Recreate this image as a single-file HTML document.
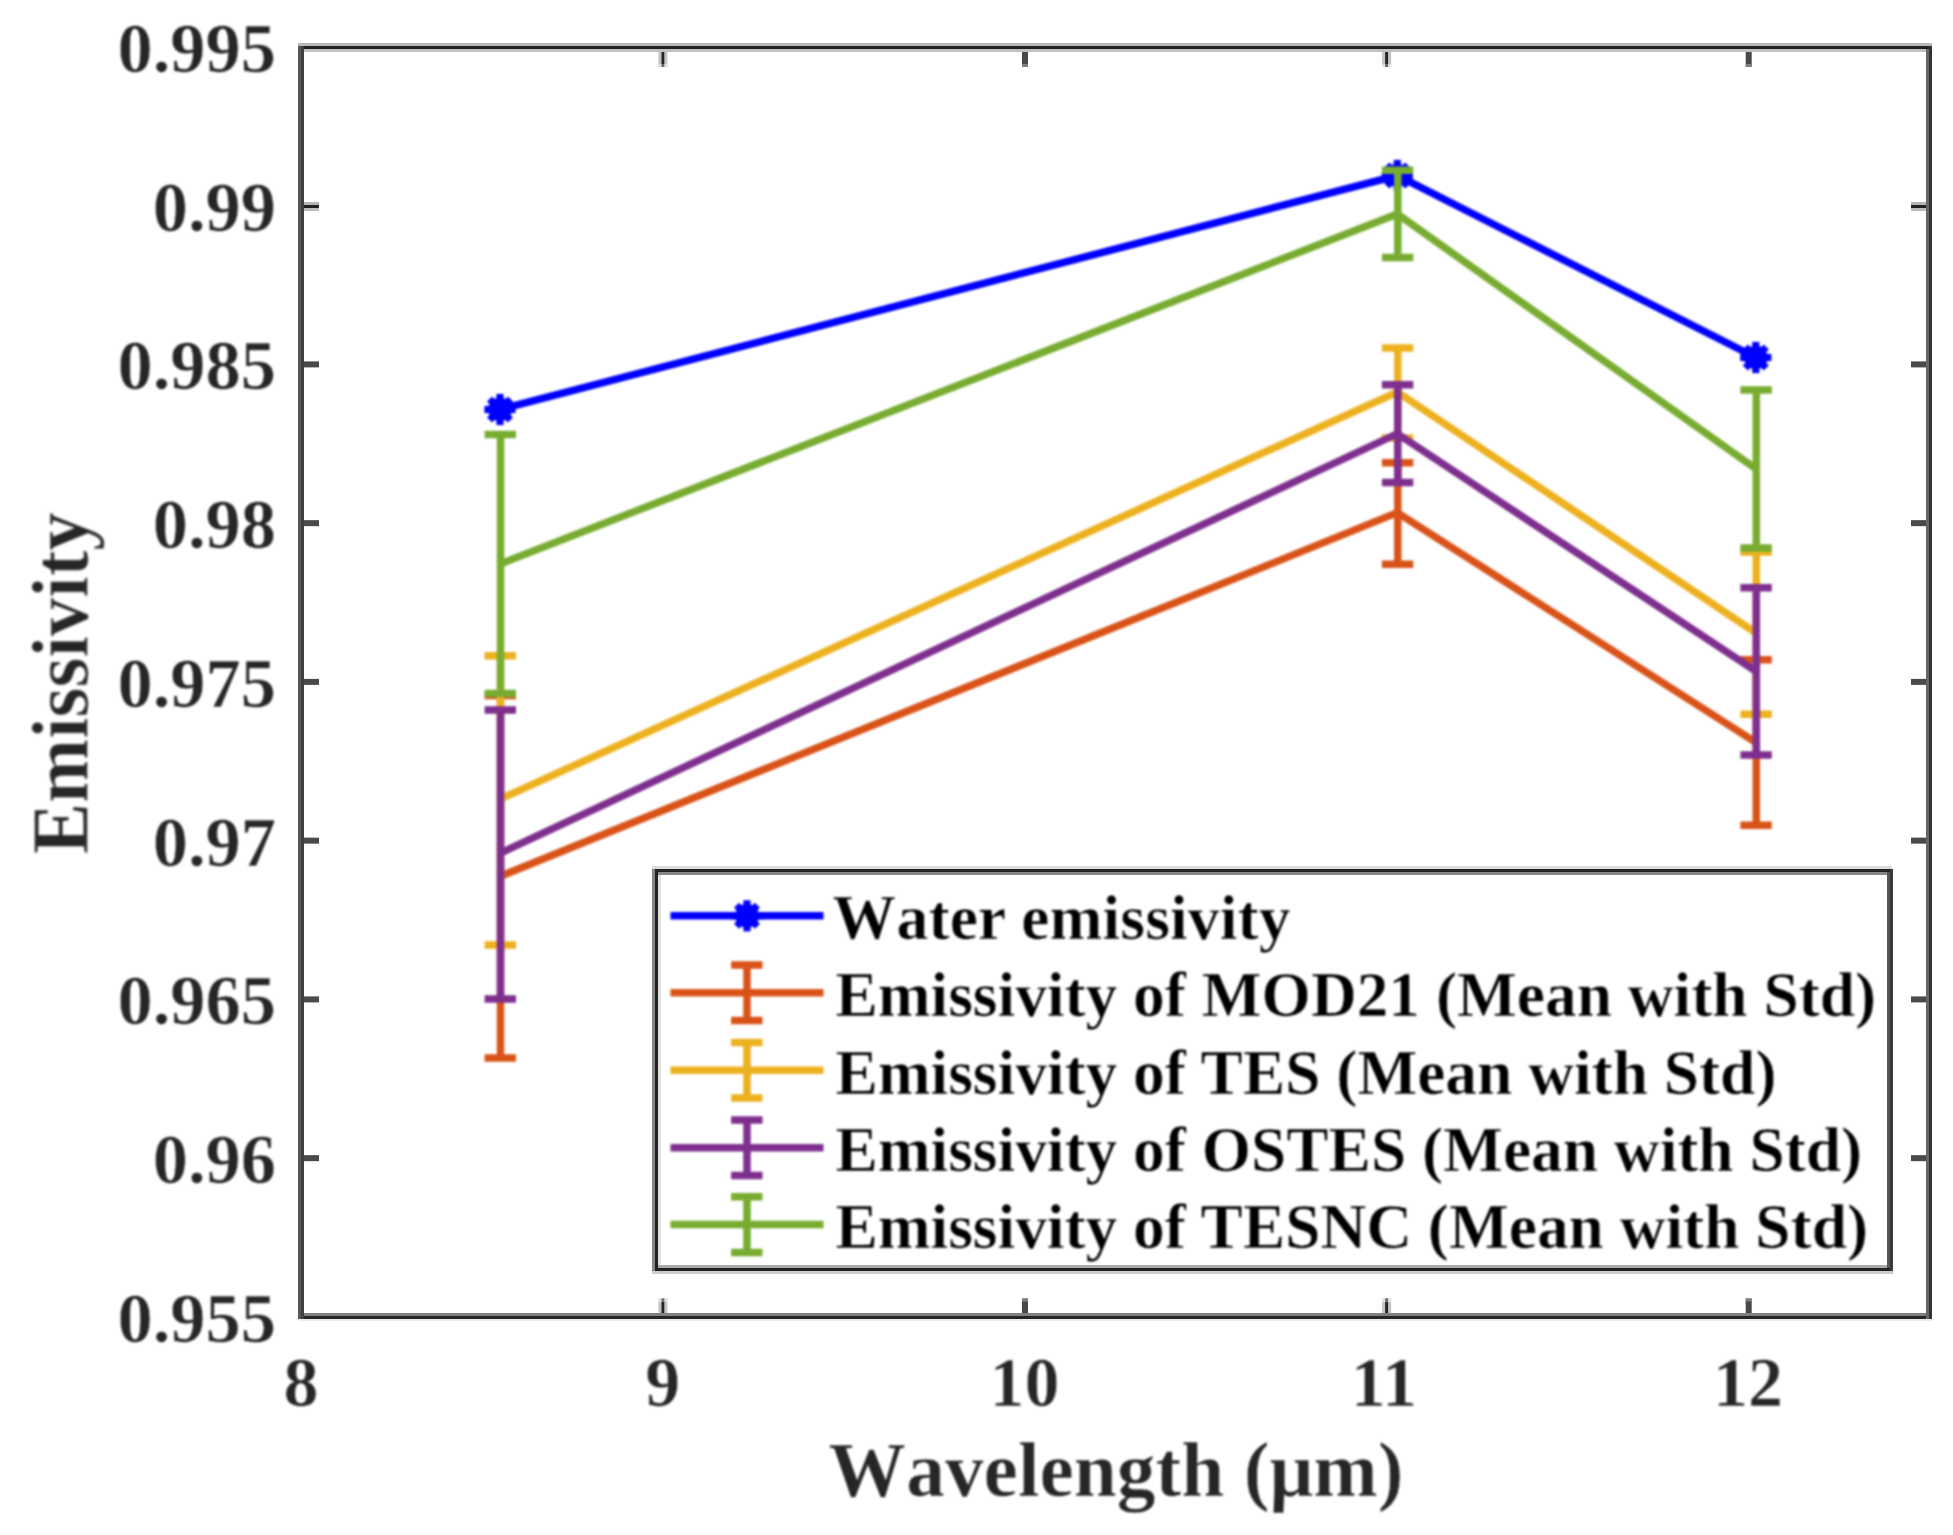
<!DOCTYPE html>
<html lang="en"><head><meta charset="utf-8"><title>Emissivity vs Wavelength</title>
<style>
html,body{margin:0;padding:0;background:#fff;}
body{width:1953px;height:1535px;overflow:hidden;font-family:"Liberation Serif","Times New Roman",serif;}
svg{display:block;}
</style></head><body>
<svg width="1953" height="1535" viewBox="0 0 1953 1535">
<rect x="0" y="0" width="1953" height="1535" fill="#fff"/>
<g fill="none" stroke-linejoin="miter" stroke-linecap="butt" style="filter:blur(1px)">
<polyline points="500.00,409.50 1397.30,175.50 1755.80,357.50" stroke="#0000FF" stroke-width="7.5"/>
<circle cx="500.00" cy="409.50" r="11.8" fill="#0000FF" stroke="none"/>
<line x1="484.40" y1="409.50" x2="515.60" y2="409.50" stroke="#0000FF" stroke-width="7.2"/>
<line x1="489.52" y1="399.02" x2="510.48" y2="419.98" stroke="#0000FF" stroke-width="7.2"/>
<line x1="500.00" y1="393.90" x2="500.00" y2="425.10" stroke="#0000FF" stroke-width="7.2"/>
<line x1="510.48" y1="399.02" x2="489.52" y2="419.98" stroke="#0000FF" stroke-width="7.2"/>
<circle cx="1397.30" cy="175.50" r="11.8" fill="#0000FF" stroke="none"/>
<line x1="1381.70" y1="175.50" x2="1412.90" y2="175.50" stroke="#0000FF" stroke-width="7.2"/>
<line x1="1386.82" y1="165.02" x2="1407.78" y2="185.98" stroke="#0000FF" stroke-width="7.2"/>
<line x1="1397.30" y1="159.90" x2="1397.30" y2="191.10" stroke="#0000FF" stroke-width="7.2"/>
<line x1="1407.78" y1="165.02" x2="1386.82" y2="185.98" stroke="#0000FF" stroke-width="7.2"/>
<circle cx="1755.80" cy="357.50" r="11.8" fill="#0000FF" stroke="none"/>
<line x1="1740.20" y1="357.50" x2="1771.40" y2="357.50" stroke="#0000FF" stroke-width="7.2"/>
<line x1="1745.32" y1="347.02" x2="1766.28" y2="367.98" stroke="#0000FF" stroke-width="7.2"/>
<line x1="1755.80" y1="341.90" x2="1755.80" y2="373.10" stroke="#0000FF" stroke-width="7.2"/>
<line x1="1766.28" y1="347.02" x2="1745.32" y2="367.98" stroke="#0000FF" stroke-width="7.2"/>
<polyline points="500.00,876.40 1397.30,512.60 1755.80,742.30" stroke="#D95319" stroke-width="7.5"/>
<path d="M484.60 695.60H516.00M484.60 1058.00H516.00M500.50 695.60V1058.00" stroke="#D95319" stroke-width="7.5"/>
<path d="M1381.90 462.70H1413.30M1381.90 564.30H1413.30M1397.80 462.70V564.30" stroke="#D95319" stroke-width="7.5"/>
<path d="M1740.40 659.80H1771.80M1740.40 825.30H1771.80M1756.30 659.80V825.30" stroke="#D95319" stroke-width="7.5"/>
<polyline points="500.00,799.10 1397.30,392.00 1755.80,632.80" stroke="#EDB120" stroke-width="7.5"/>
<path d="M484.60 655.70H516.00M484.60 945.00H516.00M500.50 655.70V945.00" stroke="#EDB120" stroke-width="7.5"/>
<path d="M1381.90 348.00H1413.30M1381.90 438.00H1413.30M1397.80 348.00V438.00" stroke="#EDB120" stroke-width="7.5"/>
<path d="M1740.40 552.00H1771.80M1740.40 714.20H1771.80M1756.30 552.00V714.20" stroke="#EDB120" stroke-width="7.5"/>
<polyline points="500.00,853.30 1397.30,433.70 1755.80,671.20" stroke="#7E2F8E" stroke-width="7.5"/>
<path d="M484.60 710.00H516.00M484.60 999.00H516.00M500.50 710.00V999.00" stroke="#7E2F8E" stroke-width="7.5"/>
<path d="M1381.90 384.80H1413.30M1381.90 482.50H1413.30M1397.80 384.80V482.50" stroke="#7E2F8E" stroke-width="7.5"/>
<path d="M1740.40 587.70H1771.80M1740.40 754.90H1771.80M1756.30 587.70V754.90" stroke="#7E2F8E" stroke-width="7.5"/>
<polyline points="500.00,564.00 1397.30,214.00 1755.80,468.80" stroke="#77AC30" stroke-width="7.5"/>
<path d="M484.60 434.50H516.00M484.60 693.50H516.00M500.50 434.50V693.50" stroke="#77AC30" stroke-width="7.5"/>
<path d="M1381.90 170.30H1413.30M1381.90 257.60H1413.30M1397.80 170.30V257.60" stroke="#77AC30" stroke-width="7.5"/>
<path d="M1740.40 389.90H1771.80M1740.40 548.00H1771.80M1756.30 389.90V548.00" stroke="#77AC30" stroke-width="7.5"/>
</g>
<g style="filter:blur(0.45px)">
<rect x="298.00" y="43.00" width="1634.00" height="3.00" fill="#b8b8b8"/>
<rect x="298.00" y="46.00" width="1634.00" height="3.00" fill="#222"/>
<rect x="304.00" y="49.00" width="1622.00" height="3.00" fill="#c0c0c0"/>
<rect x="304.00" y="1313.00" width="1622.00" height="3.00" fill="#808080"/>
<rect x="298.00" y="1316.00" width="1634.00" height="3.00" fill="#262626"/>
<rect x="298.00" y="1319.00" width="1634.00" height="2.00" fill="#ececec"/>
<rect x="298.00" y="46.00" width="3.00" height="1273.00" fill="#585858"/>
<rect x="301.00" y="46.00" width="3.00" height="1273.00" fill="#404040"/>
<rect x="1926.00" y="49.00" width="3.00" height="1270.00" fill="#666"/>
<rect x="1929.00" y="46.00" width="3.00" height="1273.00" fill="#333"/>
<rect x="304.00" y="202.00" width="15.00" height="3.00" fill="#b4b4b4"/>
<rect x="304.00" y="208.00" width="15.00" height="3.00" fill="#bcbcbc"/>
<rect x="304.00" y="205.00" width="15.00" height="3.00" fill="#222"/>
<rect x="1911.00" y="202.00" width="15.00" height="3.00" fill="#b4b4b4"/>
<rect x="1911.00" y="208.00" width="15.00" height="3.00" fill="#bcbcbc"/>
<rect x="1911.00" y="205.00" width="15.00" height="3.00" fill="#222"/>
<rect x="304.00" y="361.40" width="15.00" height="6.00" fill="#4a4a4a"/>
<rect x="1911.00" y="361.40" width="15.00" height="6.00" fill="#4a4a4a"/>
<rect x="304.00" y="520.15" width="15.00" height="6.00" fill="#4a4a4a"/>
<rect x="1911.00" y="520.15" width="15.00" height="6.00" fill="#4a4a4a"/>
<rect x="304.00" y="678.90" width="15.00" height="6.00" fill="#4a4a4a"/>
<rect x="1911.00" y="678.90" width="15.00" height="6.00" fill="#4a4a4a"/>
<rect x="304.00" y="837.65" width="15.00" height="6.00" fill="#4a4a4a"/>
<rect x="1911.00" y="837.65" width="15.00" height="6.00" fill="#4a4a4a"/>
<rect x="304.00" y="996.40" width="15.00" height="6.00" fill="#4a4a4a"/>
<rect x="1911.00" y="996.40" width="15.00" height="6.00" fill="#4a4a4a"/>
<rect x="304.00" y="1155.15" width="15.00" height="6.00" fill="#4a4a4a"/>
<rect x="1911.00" y="1155.15" width="15.00" height="6.00" fill="#4a4a4a"/>
<rect x="658.40" y="1298.50" width="3.00" height="14.50" fill="#c4c4c4"/>
<rect x="664.40" y="1298.50" width="3.00" height="14.50" fill="#c4c4c4"/>
<rect x="661.40" y="1298.50" width="3.00" height="14.50" fill="#262626"/>
<rect x="658.40" y="1298.50" width="9.00" height="3.00" fill="#fff"/>
<rect x="658.40" y="1298.50" width="3.00" height="3.00" fill="#e2e2e2"/>
<rect x="664.40" y="1298.50" width="3.00" height="3.00" fill="#e2e2e2"/>
<rect x="661.40" y="1298.50" width="3.00" height="3.00" fill="#6a6a6a"/>
<rect x="658.40" y="52.00" width="3.00" height="15.00" fill="#c4c4c4"/>
<rect x="664.40" y="52.00" width="3.00" height="15.00" fill="#c4c4c4"/>
<rect x="661.40" y="52.00" width="3.00" height="15.00" fill="#262626"/>
<rect x="658.40" y="64.00" width="9.00" height="3.00" fill="#fff"/>
<rect x="658.40" y="64.00" width="3.00" height="3.00" fill="#e2e2e2"/>
<rect x="664.40" y="64.00" width="3.00" height="3.00" fill="#e2e2e2"/>
<rect x="661.40" y="64.00" width="3.00" height="3.00" fill="#6a6a6a"/>
<rect x="1022.00" y="1298.50" width="6.00" height="14.50" fill="#484848"/>
<rect x="1022.00" y="1298.50" width="6.00" height="3.00" fill="#808080"/>
<rect x="1022.00" y="52.00" width="6.00" height="15.00" fill="#484848"/>
<rect x="1022.00" y="64.00" width="6.00" height="3.00" fill="#808080"/>
<rect x="1382.10" y="1298.50" width="3.00" height="14.50" fill="#c4c4c4"/>
<rect x="1388.10" y="1298.50" width="3.00" height="14.50" fill="#c4c4c4"/>
<rect x="1385.10" y="1298.50" width="3.00" height="14.50" fill="#262626"/>
<rect x="1382.10" y="1298.50" width="9.00" height="3.00" fill="#fff"/>
<rect x="1382.10" y="1298.50" width="3.00" height="3.00" fill="#e2e2e2"/>
<rect x="1388.10" y="1298.50" width="3.00" height="3.00" fill="#e2e2e2"/>
<rect x="1385.10" y="1298.50" width="3.00" height="3.00" fill="#6a6a6a"/>
<rect x="1382.10" y="52.00" width="3.00" height="15.00" fill="#c4c4c4"/>
<rect x="1388.10" y="52.00" width="3.00" height="15.00" fill="#c4c4c4"/>
<rect x="1385.10" y="52.00" width="3.00" height="15.00" fill="#262626"/>
<rect x="1382.10" y="64.00" width="9.00" height="3.00" fill="#fff"/>
<rect x="1382.10" y="64.00" width="3.00" height="3.00" fill="#e2e2e2"/>
<rect x="1388.10" y="64.00" width="3.00" height="3.00" fill="#e2e2e2"/>
<rect x="1385.10" y="64.00" width="3.00" height="3.00" fill="#6a6a6a"/>
<rect x="1745.70" y="1298.50" width="6.00" height="14.50" fill="#484848"/>
<rect x="1745.70" y="1298.50" width="6.00" height="3.00" fill="#808080"/>
<rect x="1745.70" y="52.00" width="6.00" height="15.00" fill="#484848"/>
<rect x="1745.70" y="64.00" width="6.00" height="3.00" fill="#808080"/>
</g>
<g style="filter:blur(1px)">
<text x="276" y="71.90" font-family="'Liberation Serif', 'Times New Roman', serif" font-weight="bold" stroke="#fff" stroke-width="0.6" font-size="70.5" fill="#262626" text-anchor="end">0.995</text>
<text x="276" y="230.65" font-family="'Liberation Serif', 'Times New Roman', serif" font-weight="bold" stroke="#fff" stroke-width="0.6" font-size="70.5" fill="#262626" text-anchor="end">0.99</text>
<text x="276" y="389.40" font-family="'Liberation Serif', 'Times New Roman', serif" font-weight="bold" stroke="#fff" stroke-width="0.6" font-size="70.5" fill="#262626" text-anchor="end">0.985</text>
<text x="276" y="548.15" font-family="'Liberation Serif', 'Times New Roman', serif" font-weight="bold" stroke="#fff" stroke-width="0.6" font-size="70.5" fill="#262626" text-anchor="end">0.98</text>
<text x="276" y="706.90" font-family="'Liberation Serif', 'Times New Roman', serif" font-weight="bold" stroke="#fff" stroke-width="0.6" font-size="70.5" fill="#262626" text-anchor="end">0.975</text>
<text x="276" y="865.65" font-family="'Liberation Serif', 'Times New Roman', serif" font-weight="bold" stroke="#fff" stroke-width="0.6" font-size="70.5" fill="#262626" text-anchor="end">0.97</text>
<text x="276" y="1024.40" font-family="'Liberation Serif', 'Times New Roman', serif" font-weight="bold" stroke="#fff" stroke-width="0.6" font-size="70.5" fill="#262626" text-anchor="end">0.965</text>
<text x="276" y="1183.15" font-family="'Liberation Serif', 'Times New Roman', serif" font-weight="bold" stroke="#fff" stroke-width="0.6" font-size="70.5" fill="#262626" text-anchor="end">0.96</text>
<text x="276" y="1341.90" font-family="'Liberation Serif', 'Times New Roman', serif" font-weight="bold" stroke="#fff" stroke-width="0.6" font-size="70.5" fill="#262626" text-anchor="end">0.955</text>
<text x="301.00" y="1406.2" font-family="'Liberation Serif', 'Times New Roman', serif" font-weight="bold" stroke="#fff" stroke-width="0.6" font-size="70" fill="#262626" text-anchor="middle">8</text>
<text x="662.78" y="1406.2" font-family="'Liberation Serif', 'Times New Roman', serif" font-weight="bold" stroke="#fff" stroke-width="0.6" font-size="70" fill="#262626" text-anchor="middle">9</text>
<text x="1024.56" y="1406.2" font-family="'Liberation Serif', 'Times New Roman', serif" font-weight="bold" stroke="#fff" stroke-width="0.6" font-size="70" fill="#262626" text-anchor="middle">10</text>
<text x="1383.83" y="1406.2" font-family="'Liberation Serif', 'Times New Roman', serif" font-weight="bold" stroke="#fff" stroke-width="0.6" font-size="70" fill="#262626" text-anchor="middle">11</text>
<text x="1748.11" y="1406.2" font-family="'Liberation Serif', 'Times New Roman', serif" font-weight="bold" stroke="#fff" stroke-width="0.6" font-size="70" fill="#262626" text-anchor="middle">12</text>
<text x="828.5" y="1495.5" dx="0 4.6" font-family="'Liberation Serif', 'Times New Roman', serif" font-weight="bold" stroke="#fff" stroke-width="0.6" font-size="77.4" fill="#262626">Wavelength (μm)</text>
<text transform="translate(87.3 683.3) rotate(-90) scale(1,1.04)" font-family="'Liberation Serif', 'Times New Roman', serif" font-weight="bold" stroke="#fff" stroke-width="0.6" font-size="77" fill="#262626" text-anchor="middle">Emissivity</text>
</g>
<g style="filter:blur(0.45px)">
<rect x="655.00" y="869.00" width="1237.00" height="402.00" fill="#fff"/>
<rect x="652.00" y="866.00" width="1240.00" height="3.00" fill="#ddd"/>
<rect x="652.00" y="869.00" width="1241.00" height="3.00" fill="#222"/>
<rect x="658.00" y="872.00" width="1229.00" height="3.00" fill="#888"/>
<rect x="658.00" y="1265.00" width="1229.00" height="3.00" fill="#aaa"/>
<rect x="652.00" y="1268.00" width="1241.00" height="3.00" fill="#222"/>
<rect x="652.00" y="1271.00" width="1241.00" height="3.00" fill="#ccc"/>
<rect x="652.00" y="869.00" width="3.00" height="402.00" fill="#888"/>
<rect x="655.00" y="869.00" width="3.00" height="402.00" fill="#222"/>
<rect x="658.00" y="875.00" width="3.00" height="390.00" fill="#e0e0e0"/>
<rect x="1887.00" y="872.00" width="3.00" height="396.00" fill="#555"/>
<rect x="1890.00" y="869.00" width="3.00" height="402.00" fill="#3a3a3a"/>
</g>
<g fill="none" style="filter:blur(1px)">
<line x1="670.5" y1="915.8" x2="823.5" y2="915.8" stroke="#0000FF" stroke-width="7.5"/>
<circle cx="747.00" cy="915.80" r="11.8" fill="#0000FF" stroke="none"/>
<line x1="731.40" y1="915.80" x2="762.60" y2="915.80" stroke="#0000FF" stroke-width="7.2"/>
<line x1="736.52" y1="905.32" x2="757.48" y2="926.28" stroke="#0000FF" stroke-width="7.2"/>
<line x1="747.00" y1="900.20" x2="747.00" y2="931.40" stroke="#0000FF" stroke-width="7.2"/>
<line x1="757.48" y1="905.32" x2="736.52" y2="926.28" stroke="#0000FF" stroke-width="7.2"/>
<line x1="670.5" y1="992.8" x2="823.5" y2="992.8" stroke="#D95319" stroke-width="7.5"/>
<path d="M731.10 965.00H762.50M731.10 1020.60H762.50M747.00 965.00V1020.60" stroke="#D95319" stroke-width="7.5"/>
<line x1="670.5" y1="1070.3" x2="823.5" y2="1070.3" stroke="#EDB120" stroke-width="7.5"/>
<path d="M731.10 1042.50H762.50M731.10 1098.10H762.50M747.00 1042.50V1098.10" stroke="#EDB120" stroke-width="7.5"/>
<line x1="670.5" y1="1147.8" x2="823.5" y2="1147.8" stroke="#7E2F8E" stroke-width="7.5"/>
<path d="M731.10 1120.00H762.50M731.10 1175.60H762.50M747.00 1120.00V1175.60" stroke="#7E2F8E" stroke-width="7.5"/>
<line x1="670.5" y1="1224.6" x2="823.5" y2="1224.6" stroke="#77AC30" stroke-width="7.5"/>
<path d="M731.10 1196.80H762.50M731.10 1252.40H762.50M747.00 1196.80V1252.40" stroke="#77AC30" stroke-width="7.5"/>
<text x="832.5" y="939.10" dx="0 4.0" letter-spacing="0.18" font-family="'Liberation Serif', 'Times New Roman', serif" font-weight="bold" stroke="#fff" stroke-width="0.6" font-size="63.4" fill="#000">Water emissivity</text>
<text x="835.5" y="1016.10" font-family="'Liberation Serif', 'Times New Roman', serif" font-weight="bold" stroke="#fff" stroke-width="0.6" font-size="63.4" fill="#000">Emissivity of MOD21 (Mean with Std)</text>
<text x="835.5" y="1093.60" font-family="'Liberation Serif', 'Times New Roman', serif" font-weight="bold" stroke="#fff" stroke-width="0.6" font-size="63.4" fill="#000">Emissivity of TES (Mean with Std)</text>
<text x="835.5" y="1171.10" font-family="'Liberation Serif', 'Times New Roman', serif" font-weight="bold" stroke="#fff" stroke-width="0.6" font-size="63.4" fill="#000">Emissivity of OSTES (Mean with Std)</text>
<text x="835.5" y="1247.90" font-family="'Liberation Serif', 'Times New Roman', serif" font-weight="bold" stroke="#fff" stroke-width="0.6" font-size="63.4" fill="#000">Emissivity of TESNC (Mean with Std)</text>
</g>
</svg>
</body></html>
